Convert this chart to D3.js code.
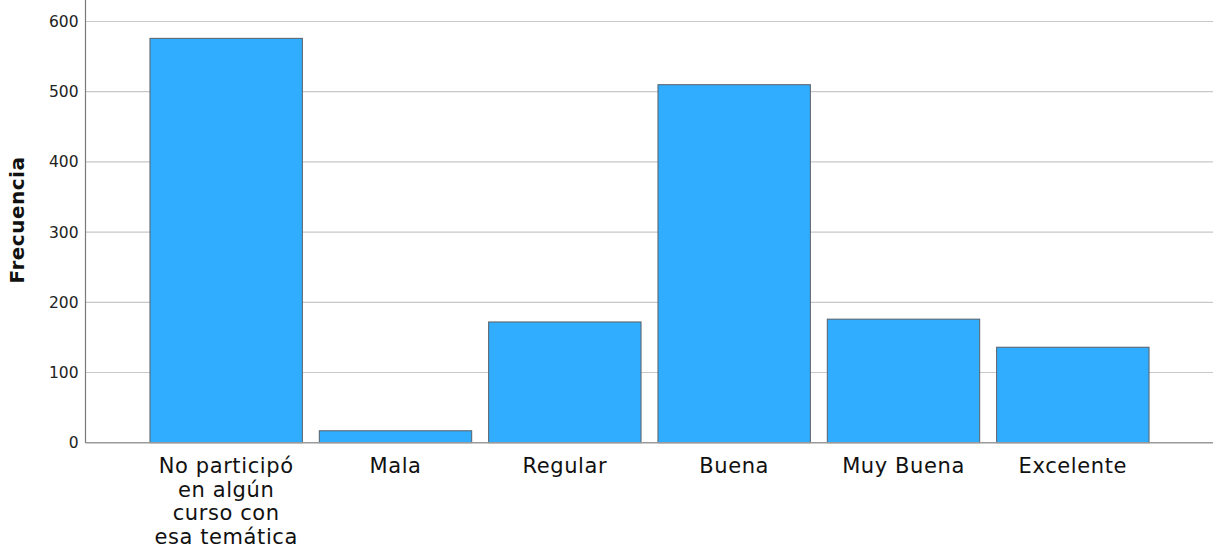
<!DOCTYPE html>
<html>
<head>
<meta charset="utf-8">
<script src="https://cdn.jsdelivr.net/npm/d3@7"></script>
<style>
  html, body { margin: 0; padding: 0; background: #fff; }
  svg { display: block; }
</style>
</head>
<body>
<script>
const categories = [
  ["No participó", "en algún", "curso con", "esa temática"],
  ["Mala"],
  ["Regular"],
  ["Buena"],
  ["Muy Buena"],
  ["Excelente"]
];
const values = [576, 17, 172, 510, 176, 136];
const yTicks = [0, 100, 200, 300, 400, 500, 600];
const yTitle = "Frecuencia";

const W = 1216, H = 550;
const svg = d3.select("body").append("svg").attr("width", W).attr("height", H);
const font = "'DejaVu Sans', sans-serif";

const keys = categories.map((c, i) => i);
const x = d3.scaleBand().domain(keys).range([141.5, 1157.5]).paddingInner(0.1).paddingOuter(0.05);
const y = d3.scaleLinear().domain([0, 600]).range([442.7, 21.5]);

const axisX = 85.5, rightX = 1213;

// gridlines
svg.append("g").selectAll("line").data(yTicks.filter(t => t > 0)).join("line")
  .attr("x1", axisX).attr("x2", rightX)
  .attr("y1", d => y(d)).attr("y2", d => y(d))
  .attr("stroke", "#c8c8c8").attr("stroke-width", 1.2);

// bars
svg.append("g").selectAll("rect").data(values).join("rect")
  .attr("x", (d, i) => x(i))
  .attr("width", x.bandwidth())
  .attr("y", d => y(d))
  .attr("height", d => y(0) - y(d))
  .attr("fill", "#31adff")
  .attr("stroke", "#5a5f66").attr("stroke-width", 1);

// baseline
svg.append("line").attr("x1", axisX).attr("x2", rightX).attr("y1", y(0)).attr("y2", y(0))
  .attr("stroke", "#9a9a9a").attr("stroke-width", 1.5);
// y axis line
svg.append("line").attr("x1", axisX).attr("x2", axisX).attr("y1", 0).attr("y2", y(0))
  .attr("stroke", "#7a7a7a").attr("stroke-width", 1.2);

// y tick labels
const yAxis = d3.axisLeft(y).tickValues(yTicks).tickSize(0).tickPadding(7).tickFormat(d3.format("d"));
const gy = svg.append("g").attr("transform", `translate(${axisX},0)`).call(yAxis);
gy.select(".domain").remove();
gy.selectAll("text").attr("font-family", font).attr("font-size", 15.5).attr("fill", "#222");

// x labels
const xl = svg.append("g").selectAll("text").data(categories).join("text")
  .attr("x", (d, i) => x(i) + x.bandwidth() / 2)
  .attr("y", 473)
  .attr("text-anchor", "middle")
  .attr("font-family", font).attr("font-size", 21).attr("letter-spacing", 0.6).attr("fill", "#111");
xl.selectAll("tspan").data(d => d).join("tspan")
  .attr("x", function() { return d3.select(this.parentNode).attr("x"); })
  .attr("dy", (d, i) => i === 0 ? 0 : 23.5)
  .text(d => d);

// y title
svg.append("text")
  .attr("transform", `translate(24,${220}) rotate(-90)`)
  .attr("text-anchor", "middle")
  .attr("font-family", font).attr("font-size", 20).attr("letter-spacing", 0.5).attr("font-weight", "bold").attr("fill", "#111")
  .text(yTitle);
</script>
</body>
</html>
